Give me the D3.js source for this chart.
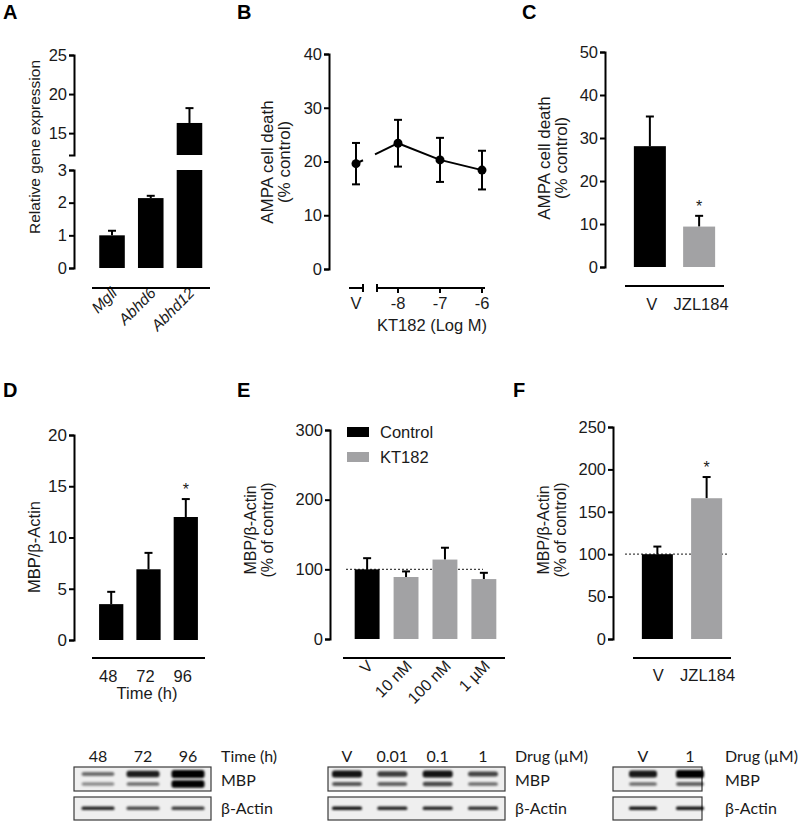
<!DOCTYPE html>
<html><head><meta charset="utf-8">
<script src="https://cdn.jsdelivr.net/npm/d3@7"></script>
<style>
body{margin:0;background:#fff;}
svg text{font-family:"Liberation Sans",Arial,sans-serif;fill:#1a1a1a;}
.blot text{font-family:Lato,"Open Sans",sans-serif;}
</style></head><body>
<svg id="fig" width="800" height="822"></svg>
<script>
// ---------------- DATA ----------------
// Panel A
const aGenes = ["Mgll", "Abhd6", "Abhd12"];
const aExpr = [1.0, 2.14, 16.3];
const aErr = [0.14, 0.07, 1.9];
const aTicksLow = [0, 1, 2, 3];
const aTicksHigh = [15, 20, 25];
// Panel B
const bVehicleLabel = ["V"];
const bVehicle = [19.6];
const bVehicleErr = [3.85];
const bLogDose = [-8, -7, -6];
const bDeath = [23.4, 20.3, 18.4];
const bErr = [4.35, 4.1, 3.6];
const bTicks = [0, 10, 20, 30, 40];
// Panel C
const cGroups = ["V", "JZL184"];
const cDeath = [28.1, 9.4];
const cErr = [6.9, 2.5];
const cTicks = [0, 10, 20, 30, 40, 50];
// Panel D
const dTimes = ["48", "72", "96"];
const dRatio = [3.5, 6.9, 12.0];
const dErr = [1.2, 1.6, 1.75];
const dTicks = [0, 5, 10, 15, 20];
// Panel E
const eGroups = ["V", "10 nM", "100 nM", "1 µM"];
const eSeries = ["Control", "KT182", "KT182", "KT182"];
const eRatio = [100, 89, 114, 86];
const eErr = [16, 8, 17, 9];
const eTicks = [0, 100, 200, 300];
// Panel F
const fGroups = ["V", "JZL184"];
const fRatio = [100, 166];
const fErr = [9, 25];
const fTicks = [0, 50, 100, 150, 200, 250];
// Blots (band intensities 0..1)
const blot1Lanes = ["48", "72", "96"];
const blot1MBPup = [0.55, 0.88, 1.0];
const blot1MBPlo = [0.42, 0.55, 1.0];
const blot1Actin = [0.85, 0.7, 0.75];
const blot2Lanes = ["V", "0.01", "0.1", "1"];
const blot2MBPup = [0.92, 0.75, 0.92, 0.72];
const blot2MBPlo = [0.65, 0.6, 0.7, 0.55];
const blot2Actin = [0.92, 0.85, 0.85, 0.8];
const blot3Lanes = ["V", "1"];
const blot3MBPup = [0.9, 1.0];
const blot3MBPlo = [0.55, 0.6];
const blot3Actin = [0.92, 0.92];

const BLACK = "#000", GREY = "#a2a2a4";
const seriesColor = d3.scaleOrdinal().domain(["Control", "KT182"]).range([BLACK, GREY]);

// ---------------- HELPERS ----------------
const svg = d3.select("#fig");
const defs = svg.append("defs");
defs.append("filter").attr("id", "blur").attr("x", "-20%").attr("y", "-100%").attr("width", "140%").attr("height", "300%")
  .append("feGaussianBlur").attr("stdDeviation", 1.3);

function yAxis(scale, ticks, x, size) {
  const g = svg.append("g").attr("transform", `translate(${x},0)`)
    .call(d3.axisLeft(scale).tickValues(ticks).tickSize(5).tickSizeOuter(5).tickPadding(2).tickFormat(d3.format("d")));
  g.selectAll("path,line").attr("stroke", "#000").attr("stroke-width", 2);
  g.selectAll("text").attr("font-size", size || 16.5).attr("fill", "#1a1a1a").style("font-family", "Liberation Sans, Arial, sans-serif");
  return g;
}
function hLine(x1, x2, y, w) {
  svg.append("line").attr("x1", x1).attr("x2", x2).attr("y1", y).attr("y2", y)
    .attr("stroke", "#000").attr("stroke-width", w || 2);
}
function letter(t, x, y) {
  svg.append("text").attr("x", x).attr("y", y).text(t).attr("font-size", 20).attr("font-weight", "bold").style("fill", "#000");
}
function yTitle(lines, x, cy, size) {
  lines.forEach((l, i) => {
    svg.append("text").attr("transform", `translate(${x[i]},${cy}) rotate(-90)`)
      .attr("text-anchor", "middle").attr("font-size", size || 16).text(l);
  });
}
function errUp(cx, yTop, yBase, half) {
  svg.append("line").attr("x1", cx).attr("x2", cx).attr("y1", yBase).attr("y2", yTop).attr("stroke", "#000").attr("stroke-width", 2);
  svg.append("line").attr("x1", cx - half).attr("x2", cx + half).attr("y1", yTop).attr("y2", yTop).attr("stroke", "#000").attr("stroke-width", 2);
}
function star(cx, y) {
  svg.append("text").attr("x", cx).attr("y", y).attr("text-anchor", "middle").attr("font-size", 16).text("*");
}
function bars(cats, vals, errs, colors, x, y) {
  cats.forEach((c, i) => {
    const cx = x(c) + x.bandwidth() / 2;
    errUp(cx, y(vals[i] + errs[i]), y(vals[i]), 4);
    svg.append("rect").attr("x", x(c)).attr("width", x.bandwidth())
      .attr("y", y(vals[i])).attr("height", y(0) - y(vals[i])).attr("fill", colors[i]);
  });
}

// ---------------- PANEL A ----------------
letter("A", 3, 19);
{
  const yLow = d3.scaleLinear().domain([0, 3]).range([268, 170]);
  const yHigh = d3.scaleLinear().domain([12.2, 25]).range([155, 55]);
  const x = d3.scaleBand().domain(aGenes).range([91.5, 210]).paddingInner(0.34).paddingOuter(0.2);
  yAxis(yLow, aTicksLow, 74);
  yAxis(yHigh, aTicksHigh, 74);
  aGenes.forEach((g, i) => {
    const v = aExpr[i], cx = x(g) + x.bandwidth() / 2;
    if (v > 3) {
      errUp(cx, yHigh(v + aErr[i]), yHigh(v), 4);
      svg.append("rect").attr("x", x(g)).attr("width", x.bandwidth()).attr("y", yHigh(v)).attr("height", yHigh(12.2) - yHigh(v)).attr("fill", BLACK);
      svg.append("rect").attr("x", x(g)).attr("width", x.bandwidth()).attr("y", yLow(3)).attr("height", yLow(0) - yLow(3)).attr("fill", BLACK);
    } else {
      errUp(cx, yLow(v + aErr[i]), yLow(v), 4);
      svg.append("rect").attr("x", x(g)).attr("width", x.bandwidth()).attr("y", yLow(v)).attr("height", yLow(0) - yLow(v)).attr("fill", BLACK);
    }
    svg.append("text").attr("transform", `translate(${cx + 6},${294}) rotate(-45)`)
      .attr("text-anchor", "end").attr("font-size", 15.5).attr("font-style", "italic").text(g);
  });
  hLine(92, 210, 288);
  yTitle(["Relative gene expression"], [40], 147, 15.5);
}

// ---------------- PANEL B ----------------
letter("B", 237, 19);
{
  const y = d3.scaleLinear().domain([0, 40]).range([269, 54]);
  const x = d3.scaleLinear().domain([-8, -6]).range([398, 482]);
  const xV = d3.scalePoint().domain(bVehicleLabel).range([356, 356]);
  yAxis(y, bTicks, 329);
  hLine(349, 363, 288); hLine(377, 485, 288);
  [363, 377].forEach(v => svg.append("line").attr("x1", v).attr("x2", v).attr("y1", 284).attr("y2", 292).attr("stroke", "#000").attr("stroke-width", 2));
  bLogDose.forEach(d => svg.append("line").attr("x1", x(d)).attr("x2", x(d)).attr("y1", 288).attr("y2", 293).attr("stroke", "#000").attr("stroke-width", 2));
  const p0 = [xV("V"), y(bVehicle[0])], p1 = [x(bLogDose[0]), y(bDeath[0])];
  const interp = xx => p0[1] + (p1[1] - p0[1]) * (xx - p0[0]) / (p1[0] - p0[0]);
  svg.append("line").attr("x1", p0[0]).attr("y1", p0[1]).attr("x2", 363).attr("y2", interp(363)).attr("stroke", "#000").attr("stroke-width", 2);
  svg.append("line").attr("x1", 375).attr("y1", interp(375)).attr("x2", p1[0]).attr("y2", p1[1]).attr("stroke", "#000").attr("stroke-width", 2);
  svg.append("path").datum(bLogDose.map((d, i) => [x(d), y(bDeath[i])]))
    .attr("d", d3.line()).attr("fill", "none").attr("stroke", "#000").attr("stroke-width", 2);
  const pts = bVehicleLabel.map((l, i) => ({cx: xV(l), m: bVehicle[i], e: bVehicleErr[i]}))
    .concat(bLogDose.map((d, i) => ({cx: x(d), m: bDeath[i], e: bErr[i]})));
  pts.forEach(p => {
    svg.append("line").attr("x1", p.cx).attr("x2", p.cx).attr("y1", y(p.m - p.e)).attr("y2", y(p.m + p.e)).attr("stroke", "#000").attr("stroke-width", 2);
    [p.m - p.e, p.m + p.e].forEach(v => svg.append("line").attr("x1", p.cx - 4).attr("x2", p.cx + 4).attr("y1", y(v)).attr("y2", y(v)).attr("stroke", "#000").attr("stroke-width", 2));
    svg.append("circle").attr("cx", p.cx).attr("cy", y(p.m)).attr("r", 4.5).attr("fill", "#000");
  });
  svg.append("text").attr("x", xV("V")).attr("y", 309).attr("text-anchor", "middle").attr("font-size", 16.5).text("V");
  bLogDose.forEach(d => svg.append("text").attr("x", x(d)).attr("y", 309).attr("text-anchor", "middle").attr("font-size", 16.5).text(String(d)));
  svg.append("text").attr("x", 432).attr("y", 331).attr("text-anchor", "middle").attr("font-size", 16.5).text("KT182 (Log M)");
  yTitle(["AMPA cell death", "(% control)"], [273, 290], 162, 17);
}

// ---------------- PANEL C ----------------
letter("C", 522, 19);
{
  const y = d3.scaleLinear().domain([0, 50]).range([267, 52]);
  const x = d3.scaleBand().domain(cGroups).range([625, 724]).paddingInner(0.35).paddingOuter(0.18);
  yAxis(y, cTicks, 605);
  bars(cGroups, cDeath, cErr, [BLACK, GREY], x, y);
  star(x("JZL184") + x.bandwidth() / 2, y(cDeath[1] + cErr[1]) - 4);
  hLine(625, 724, 286);
  cGroups.forEach(g => svg.append("text").attr("x", x(g) + x.bandwidth() / 2 + 2).attr("y", 310).attr("text-anchor", "middle").attr("font-size", 16.5).text(g));
  yTitle(["AMPA cell death", "(% control)"], [550, 567], 158, 17);
}

// ---------------- PANEL D ----------------
letter("D", 3, 397);
{
  const y = d3.scaleLinear().domain([0, 20]).range([640, 435]);
  const x = d3.scaleBand().domain(dTimes).range([92, 205]).paddingInner(0.35).paddingOuter(0.19);
  yAxis(y, dTicks, 74, 17);
  bars(dTimes, dRatio, dErr, [BLACK, BLACK, BLACK], x, y);
  star(x("96") + x.bandwidth() / 2, y(dRatio[2] + dErr[2]) - 4);
  hLine(92, 205, 658);
  dTimes.forEach(t => svg.append("text").attr("x", x(t) + x.bandwidth() / 2 - 3).attr("y", 682).attr("text-anchor", "middle").attr("font-size", 16.5).text(t));
  svg.append("text").attr("x", 147).attr("y", 699).attr("text-anchor", "middle").attr("font-size", 16.5).text("Time (h)");
  yTitle(["MBP/β-Actin"], [40], 547, 16.5);
}

// ---------------- PANEL E ----------------
letter("E", 237, 397);
{
  const y = d3.scaleLinear().domain([0, 300]).range([639, 430]);
  const x = d3.scaleBand().domain(eGroups).range([343, 508]).paddingInner(0.36).paddingOuter(0.3);
  yAxis(y, eTicks, 330);
  svg.append("line").attr("x1", 346).attr("x2", 483).attr("y1", y(100)).attr("y2", y(100))
    .attr("stroke", "#444").attr("stroke-width", 1.2).attr("stroke-dasharray", "2,2");
  bars(eGroups, eRatio, eErr, eSeries.map(s => seriesColor(s)), x, y);
  hLine(343, 505, 658);
  eGroups.forEach(g => svg.append("text").attr("transform", `translate(${x(g) + x.bandwidth() / 2 + 7},${667}) rotate(-45)`)
    .attr("text-anchor", "end").attr("font-size", 16).text(g));
  seriesColor.domain().forEach((s, i) => {
    svg.append("rect").attr("x", 347).attr("y", 427 + i * 25).attr("width", 22).attr("height", 10).attr("fill", seriesColor(s));
    svg.append("text").attr("x", 380).attr("y", 432 + i * 25).attr("dy", "0.35em").attr("font-size", 16.5).text(s);
  });
  yTitle(["MBP/β-Actin", "(% of control)"], [256, 273], 530, 16);
}

// ---------------- PANEL F ----------------
letter("F", 513, 397);
{
  const y = d3.scaleLinear().domain([0, 250]).range([639, 427]);
  const x = d3.scaleBand().domain(fGroups).range([633, 731]).paddingInner(0.37).paddingOuter(0.18);
  yAxis(y, fTicks, 613);
  svg.append("line").attr("x1", 625).attr("x2", 728).attr("y1", y(100)).attr("y2", y(100))
    .attr("stroke", "#444").attr("stroke-width", 1.2).attr("stroke-dasharray", "2,2");
  bars(fGroups, fRatio, fErr, [BLACK, GREY], x, y);
  star(x("JZL184") + x.bandwidth() / 2, y(fRatio[1] + fErr[1]) - 4);
  hLine(633, 731, 658);
  fGroups.forEach(g => svg.append("text").attr("x", x(g) + x.bandwidth() / 2 + 1).attr("y", 681).attr("text-anchor", "middle").attr("font-size", 16.5).text(g));
  yTitle(["MBP/β-Actin", "(% of control)"], [549, 566], 530, 16);
}

// ---------------- BLOTS ----------------
function blot(lanes, laneRange, boxX, up, lo, act, header, textX, bandW) {
  const g = svg.append("g").attr("class", "blot");
  const x = d3.scalePoint().domain(lanes).range(laneRange);
  const boxes = [[767, 791], [797, 820]];
  boxes.forEach(b => g.append("rect").attr("x", boxX[0]).attr("y", b[0]).attr("width", boxX[1] - boxX[0]).attr("height", b[1] - b[0])
    .attr("fill", "#efefef").attr("stroke", "#3a3a3a").attr("stroke-width", 1.2));
  const bands = g.append("g").attr("filter", "url(#blur)");
  lanes.forEach((l, i) => {
    const cx = x(l);
    const hU = 3.5 + 4.5 * Math.pow(up[i], 3), hL = 3 + 4.5 * Math.pow(lo[i], 3);
    bands.append("rect").attr("x", cx - bandW / 2).attr("width", bandW).attr("y", 774 - hU / 2).attr("height", hU).attr("rx", 2.5)
      .attr("fill", "#000").attr("opacity", up[i]);
    bands.append("rect").attr("x", cx - bandW / 2).attr("width", bandW).attr("y", 784 - hL / 2).attr("height", hL).attr("rx", 2.5)
      .attr("fill", "#000").attr("opacity", lo[i]);
    bands.append("rect").attr("x", cx - bandW / 2).attr("width", bandW).attr("y", 806.5).attr("height", 3.5).attr("rx", 1.5)
      .attr("fill", "#000").attr("opacity", act[i]);
    g.append("text").attr("x", cx).attr("y", 762).attr("text-anchor", "middle").attr("font-size", 16).text(l);
  });
  g.append("text").attr("x", textX).attr("y", 762).attr("font-size", 16).text(header);
  g.append("text").attr("x", textX).attr("y", 786).attr("font-size", 16).text("MBP");
  g.append("text").attr("x", textX).attr("y", 814).attr("font-size", 16).text("β-Actin");
}
blot(blot1Lanes, [98, 188], [74, 211], blot1MBPup, blot1MBPlo, blot1Actin, "Time (h)", 221, 33);
blot(blot2Lanes, [347, 483], [328, 505], blot2MBPup, blot2MBPlo, blot2Actin, "Drug (µM)", 515, 30);
blot(blot3Lanes, [643, 690], [613, 702], blot3MBPup, blot3MBPlo, blot3Actin, "Drug (µM)", 725, 28);
</script>
</body></html>
